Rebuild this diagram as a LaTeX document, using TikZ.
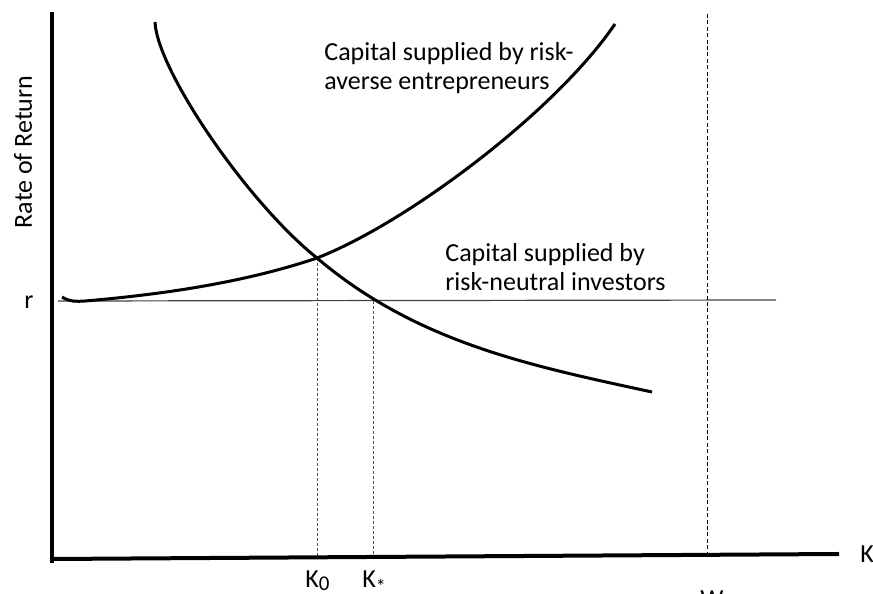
\documentclass[tikz,border=0pt]{standalone}
\usepackage{fontspec}
\setmainfont{Carlito}
\begin{document}
\begin{tikzpicture}[x=0.5pt,y=-0.5pt,
  axisline/.style={line width=2pt,line cap=rect},
  curveline/.style={line width=1.5pt},
  guide/.style={line width=0.4pt,black!70,dash pattern=on 1.5pt off 1pt},
  wguide/.style={line width=0.4pt,black,dash pattern=on 2pt off 1.2pt},
  lbl/.style={font=\fontsize{13pt}{14.5pt}\selectfont,inner sep=0pt},
]
\useasboundingbox (0,0) rectangle (873,594);
\coordinate (ytop) at (52,14);
\coordinate (ybot) at (52,561);
\coordinate (orig) at (52,559);
\coordinate (xend) at (837,554);
\coordinate (rL) at (58,301);
\coordinate (rR) at (776,300);
\coordinate (E0) at (317,258);
\coordinate (E0b) at (317,557);
\coordinate (Es) at (373,301);
\coordinate (Esb) at (373,556);
\coordinate (Wt) at (707,14);
\coordinate (Wb) at (707,555);
% r line
\draw[line width=0.6pt,black!75] (rL) -- (rR);
% guides
\draw[guide] (E0) -- (E0b);
\draw[guide] (Es) -- (Esb);
\draw[wguide] (Wt) -- (Wb);
% axes
\draw[axisline] (ytop) -- (ybot);
\draw[axisline] (orig) -- (xend);
% demand curve
\draw[curveline] (155,22) .. controls (157,70) and (247,202) .. (E0)
  .. controls (417,343) and (532,366) .. (652,392);
% supply curve
\draw[curveline] (62,297) .. controls (70,302) and (76,301.5) .. (85,301)
  .. controls (155,295) and (240,284) .. (E0)
  .. controls (407,223) and (555,112) .. (615,24);
% labels
\node[lbl,anchor=base west,align=left] (la) at (324,89) {Capital supplied by risk-\\averse entrepreneurs};
\node[lbl,anchor=base west,align=left] (lb) at (445,290) {Capital supplied by\\risk-neutral investors};
\node[lbl,anchor=base,rotate=90] (ylab) at (32,152) {Rate of Return};
\node[lbl,anchor=base west] (rlab) at (24,308) {r};
\node[lbl,anchor=base west] (xlab) at (860,562) {K};
\node[lbl,anchor=base west] (k0) at (305,587) {K\raisebox{-1.5pt}{\fontsize{10.5pt}{10pt}\selectfont 0}};
\node[lbl,anchor=base west] (ks) at (362,587) {K\raisebox{-3pt}{\fontsize{10pt}{10pt}\selectfont *}};
\node[lbl,anchor=base west] (wlab) at (700,607) {W};
\end{tikzpicture}
\end{document}
